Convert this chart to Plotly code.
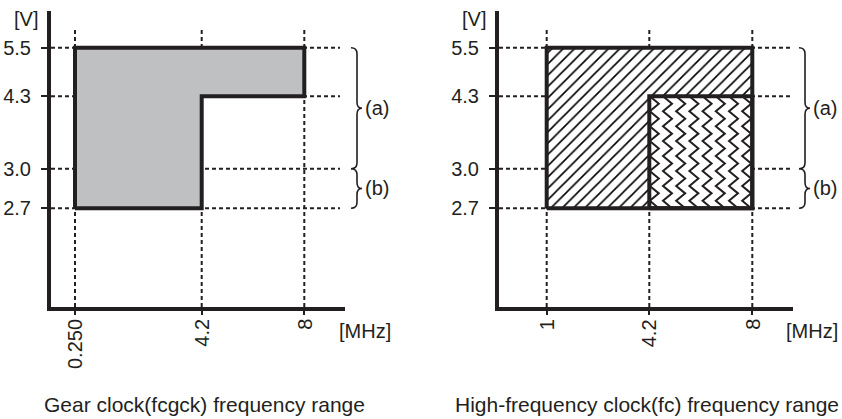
import numpy as np
import plotly.graph_objects as go

# values
volts = [2.7, 3.0, 4.3, 5.5]
volt_labels = ["2.7", "3.0", "4.3", "5.5"]

gear_freqs = [0.25, 4.2, 8]
gear_freq_labels = ["0.250", "4.2", "8"]
# gear clock: 0.250-4.2 MHz at 2.7-5.5 V, up to 8 MHz at 4.3-5.5 V
gear_f_min = [0.25, 0.25]
gear_f_max = [4.2, 8]
gear_v_min = [2.7, 4.3]
gear_v_max = [5.5, 5.5]

hf_freqs = [1, 4.2, 8]
hf_freq_labels = ["1", "4.2", "8"]
# high-frequency clock: 1-8 MHz at 2.7-5.5 V, 4.2-8 MHz band at 2.7-4.3 V
hf_f_min = [1, 4.2]
hf_f_max = [8, 8]
hf_v_min = [2.7, 2.7]
hf_v_max = [5.5, 4.3]

brace_labels = ["(a)", "(b)"]
brace_lo = [3.0, 2.7]
brace_hi = [5.5, 3.0]

# the original axes are schematic (not to scale), so each value gets a fixed slot
V_POS = {2.7: 98.7, 3.0: 138.3, 4.3: 210.7, 5.5: 259.3}
GEAR_F_POS = {0.25: 24, 4.2: 150.7, 8: 253.3}
HF_F_POS = {1: 47.7, 4.2: 150.3, 8: 253.3}

W, H = 842, 419
Y_BOT, Y_TOP = 307, 11
AX_W = 294
INK = "#231f20"
FONT = "Liberation Sans, Arial, sans-serif"


def paper_x(x0, u):
    return (x0 + u) / W


def paper_y(v):
    return (H - Y_BOT + v) / H


fig = go.Figure()
shapes = []
annotations = []

panels = [
    dict(x0=51, freqs=gear_freqs, labels=gear_freq_labels,
         pos=GEAR_F_POS, grid_end=289,
         caption="Gear clock(fcgck) frequency range", cap_x=204),
    dict(x0=499, freqs=hf_freqs, labels=hf_freq_labels,
         pos=HF_F_POS, grid_end=291,
         caption="High-frequency clock(fc) frequency range", cap_x=647),
]

for i, p in enumerate(panels):
    x0 = p["x0"]
    F = p["pos"]
    axis_sfx = "" if i == 0 else str(i + 1)

    # dashed guide lines, drawn beneath the filled areas
    for f in p["freqs"]:
        shapes.append(dict(type="line", xref="paper", yref="paper", layer="below",
                           x0=paper_x(x0, F[f]), x1=paper_x(x0, F[f]),
                           y0=paper_y(0), y1=paper_y(Y_BOT - 30),
                           line=dict(color=INK, width=2, dash="4px,3px")))
    for v in volts:
        shapes.append(dict(type="line", xref="paper", yref="paper", layer="below",
                           x0=paper_x(x0, 0), x1=paper_x(x0, p["grid_end"]),
                           y0=paper_y(V_POS[v]), y1=paper_y(V_POS[v]),
                           line=dict(color=INK, width=2, dash="4px,3px")))

    # braces for the (a) / (b) voltage bands
    hook, stem, tip = 300, 306, 311
    for lab, lo, hi in zip(brace_labels, brace_lo, brace_hi):
        top, bot = V_POS[hi], V_POS[lo]
        mid = (top + bot) / 2
        r = min(6, (top - bot) / 4)
        pts = lambda u, v: f"{paper_x(x0, u):.5f},{paper_y(v):.5f}"
        path = (f"M{pts(hook, top)} Q{pts(stem, top)} {pts(stem, top - r)} "
                f"L{pts(stem, mid + r)} Q{pts(stem, mid)} {pts(tip, mid)} "
                f"Q{pts(stem, mid)} {pts(stem, mid - r)} "
                f"L{pts(stem, bot + r)} Q{pts(stem, bot)} {pts(hook, bot)}")
        shapes.append(dict(type="path", xref="paper", yref="paper", path=path,
                           line=dict(color=INK, width=1.6)))
        annotations.append(dict(text=lab, xref="paper", yref="paper",
                                x=paper_x(x0, 312), y=paper_y(mid), xanchor="left",
                                yanchor="middle", showarrow=False,
                                font=dict(size=20, color=INK, family=FONT)))

    # rotated frequency tick labels, hung just below the axis
    for f, lab in zip(p["freqs"], p["labels"]):
        annotations.append(dict(text=lab, xref="x" + axis_sfx, yref="paper",
                                x=F[f], y=1 - 317 / H, xanchor="center", yanchor="top",
                                textangle=-90, showarrow=False,
                                font=dict(size=20, color=INK, family=FONT)))

    annotations.append(dict(text="[V]", xref="paper", yref="paper",
                            x=paper_x(x0, -25), y=1 - 19 / H, xanchor="center",
                            yanchor="middle", showarrow=False,
                            font=dict(size=20, color=INK, family=FONT)))
    annotations.append(dict(text="[MHz]", xref="paper", yref="paper",
                            x=paper_x(x0, 314 if i == 0 else 313), y=1 - 331 / H,
                            xanchor="center", yanchor="middle", showarrow=False,
                            font=dict(size=20, color=INK, family=FONT)))
    annotations.append(dict(text=p["caption"], xref="paper", yref="paper",
                            x=p["cap_x"] / W, y=1 - 404 / H, xanchor="center",
                            yanchor="middle", showarrow=False,
                            font=dict(size=21, color=INK, family=FONT)))

    fig.update_layout(**{
        "xaxis" + axis_sfx: dict(
            domain=[x0 / W, (x0 + AX_W) / W], range=[0, AX_W], anchor="y" + axis_sfx,
            showgrid=False, zeroline=False, showline=True, linewidth=4, linecolor=INK,
            tickmode="array", tickvals=[F[f] for f in p["freqs"]],
            showticklabels=False,
            ticks="outside", ticklen=4, tickwidth=2, tickcolor=INK, fixedrange=True),
        "yaxis" + axis_sfx: dict(
            domain=[(H - Y_BOT) / H, (H - Y_TOP) / H], range=[0, Y_BOT - Y_TOP],
            anchor="x" + axis_sfx,
            showgrid=False, zeroline=False, showline=True, linewidth=4, linecolor=INK,
            tickmode="array", tickvals=[V_POS[v] for v in volts], ticktext=volt_labels,
            ticks="outside", ticklen=6, tickwidth=2, tickcolor=INK,
            ticklabelstandoff=6,
            tickfont=dict(size=20, color=INK, family=FONT), fixedrange=True),
    })

# gear clock: L-shaped grey area (union of the two bands)
F = GEAR_F_POS
gx = [F[gear_f_min[0]], F[gear_f_min[0]], F[gear_f_max[1]], F[gear_f_max[1]],
      F[gear_f_max[0]], F[gear_f_max[0]], F[gear_f_min[0]]]
gy = [V_POS[gear_v_min[0]], V_POS[gear_v_max[0]], V_POS[gear_v_max[1]], V_POS[gear_v_min[1]],
      V_POS[gear_v_min[1]], V_POS[gear_v_min[0]], V_POS[gear_v_min[0]]]
fig.add_trace(go.Scatter(x=gx, y=gy, xaxis="x", yaxis="y", mode="lines", fill="toself",
                         fillcolor="#bfc0c2", line=dict(color=INK, width=4),
                         hoverinfo="skip", showlegend=False))


def rect(fmin, fmax, vmin, vmax):
    x = [HF_F_POS[fmin], HF_F_POS[fmin], HF_F_POS[fmax], HF_F_POS[fmax], HF_F_POS[fmin]]
    y = [V_POS[vmin], V_POS[vmax], V_POS[vmax], V_POS[vmin], V_POS[vmin]]
    return x, y


# high-frequency clock: hatched outer band
ox, oy = rect(hf_f_min[0], hf_f_max[0], hf_v_min[0], hf_v_max[0])
fig.add_trace(go.Scatter(x=ox, y=oy, xaxis="x2", yaxis="y2", mode="lines", fill="toself",
                         fillpattern=dict(shape="/", size=8, solidity=0.2,
                                          fgcolor="#000000", fgopacity=1, bgcolor="white"),
                         line=dict(width=0, color=INK), hoverinfo="skip", showlegend=False))

# inner band: white base plus zigzag texture
ix, iy = rect(hf_f_min[1], hf_f_max[1], hf_v_min[1], hf_v_max[1])
fig.add_trace(go.Scatter(x=ix, y=iy, xaxis="x2", yaxis="y2", mode="lines", fill="toself",
                         fillcolor="white", line=dict(width=0, color="white"),
                         hoverinfo="skip", showlegend=False))

zx, zy = [], []
u_lo, u_hi = min(ix), max(ix)
v_lo, v_hi = min(iy), max(iy)
n_half = 15
amp = 9
vs = np.linspace(v_hi, v_lo, n_half + 1)
col = u_lo + 0.5
while col + amp <= u_hi + 1:
    for k, v in enumerate(vs):
        zx.append(min(col + (0 if k % 2 == 0 else amp), u_hi))
        zy.append(v)
    zx.append(None)
    zy.append(None)
    col += 13.2
fig.add_trace(go.Scatter(x=zx, y=zy, xaxis="x2", yaxis="y2", mode="lines",
                         line=dict(color=INK, width=2), hoverinfo="skip",
                         showlegend=False))

for x, y in [(ox, oy), (ix, iy)]:
    fig.add_trace(go.Scatter(x=x, y=y, xaxis="x2", yaxis="y2", mode="lines",
                             line=dict(color=INK, width=4), hoverinfo="skip",
                             showlegend=False))

fig.update_layout(
    width=W, height=H,
    margin=dict(l=0, r=0, t=0, b=0),
    paper_bgcolor="white",
    plot_bgcolor="rgba(0,0,0,0)",
    shapes=shapes,
    annotations=annotations,
    showlegend=False,
)

# page body has a default margin; drop it so the figure sits at the window origin
fig.write_html("out.html", config={"displayModeBar": False},
               post_script="document.body.style.margin='0';")
